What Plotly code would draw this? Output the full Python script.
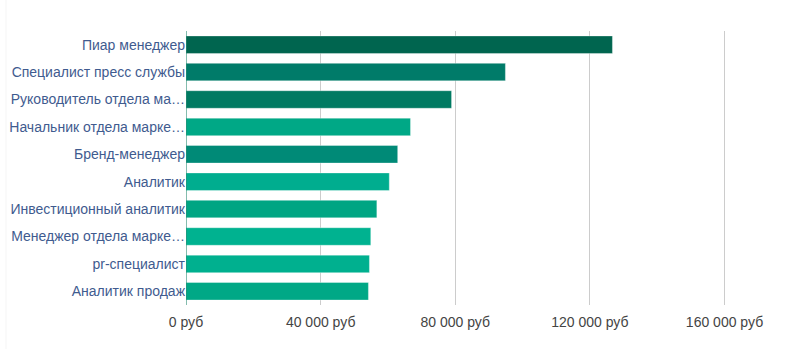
import plotly.graph_objects as go

categories = [
    "Пиар менеджер",
    "Специалист пресс службы",
    "Руководитель отдела ма…",
    "Начальник отдела марке…",
    "Бренд-менеджер",
    "Аналитик",
    "Инвестиционный аналитик",
    "Менеджер отдела марке…",
    "pr-специалист",
    "Аналитик продаж",
]
salaries = [126700, 94900, 78900, 66700, 62900, 60400, 56700, 54900, 54500, 54200]
bar_colors = ["#00654f", "#007b69", "#007a62", "#00a886", "#008a77",
              "#00ad8f", "#00a583", "#00b290", "#00b08f", "#00a886"]
tick_values = [0, 40000, 80000, 120000, 160000]
tick_labels = ["0 руб", "40 000 руб", "80 000 руб", "120 000 руб", "160 000 руб"]

fig = go.Figure(go.Bar(
    x=salaries,
    y=categories,
    orientation="h",
    marker=dict(color=bar_colors, line=dict(color="rgba(255,255,255,0.35)", width=1)),
    hoverinfo="x+y",
))

fig.update_layout(
    width=795, height=349,
    margin=dict(l=186, r=20, t=31, b=44),
    paper_bgcolor="white", plot_bgcolor="white",
    bargap=0.36,
    showlegend=False,
    font=dict(family="Liberation Sans, Arial, sans-serif", size=14),
    xaxis=dict(
        range=[0, 175000],
        tickvals=tick_values, ticktext=tick_labels,
        showgrid=True, gridcolor="#cccccc", gridwidth=1,
        zeroline=False, showline=False, ticks="",
        ticklabelstandoff=7,
        tickfont=dict(color="#444444", size=14),
        automargin=False,
        fixedrange=True,
    ),
    yaxis=dict(
        autorange="reversed",
        showgrid=False, zeroline=False,
        showline=False, ticks="",
        tickfont=dict(color="#3f5b8f", size=14),
        automargin=False,
        fixedrange=True,
    ),
    shapes=[
        dict(type="line", xref="x", yref="paper", x0=0, x1=0, y0=0, y1=1,
             line=dict(color="#0b7a5e", width=1)),
        dict(type="line", xref="paper", yref="paper", x0=-180/589, x1=-180/589,
             y0=-44/274, y1=1 + 31/274, line=dict(color="#f5f5f5", width=1)),
    ],
)

fig.write_html("out.html")
